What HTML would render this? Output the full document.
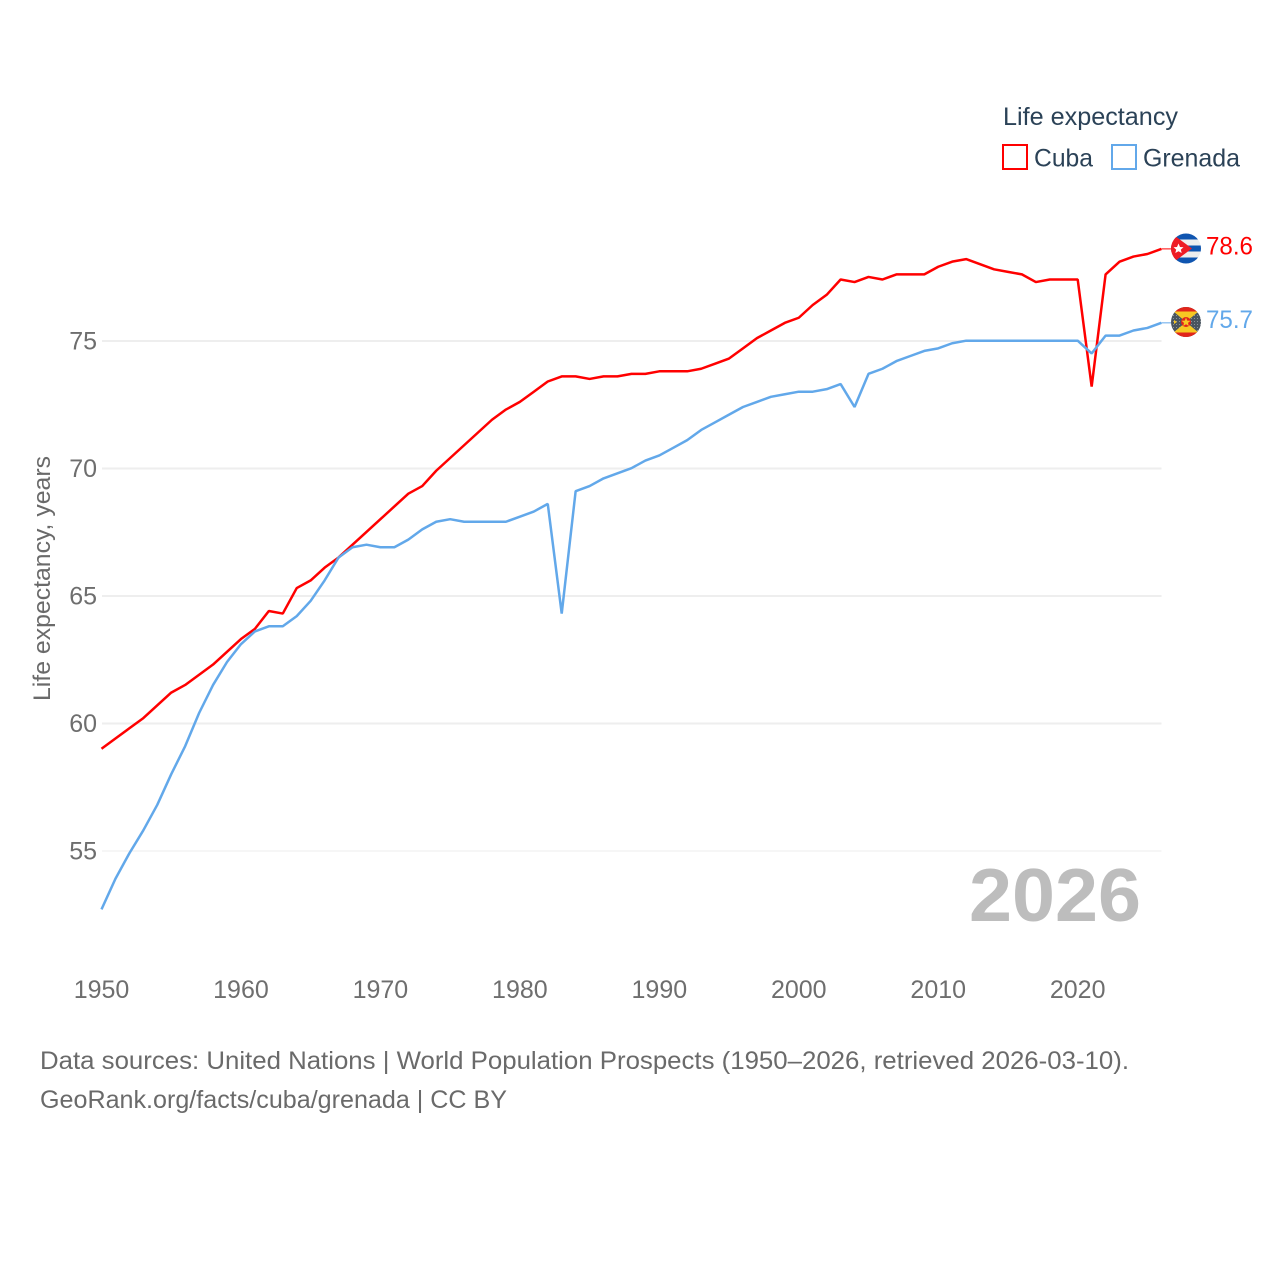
<!DOCTYPE html>
<html lang="en">
<head>
<meta charset="utf-8">
<title>Life expectancy: Cuba and Grenada</title>
<style>
html,body{margin:0;padding:0;background:#fff;width:1280px;height:1280px;overflow:hidden}
svg{display:block}
text{font-family:"Liberation Sans",sans-serif}
</style>
</head>
<body>
<svg id="chart" xmlns="http://www.w3.org/2000/svg" width="1280" height="1280" viewBox="0 0 1280 1280">
  <rect x="0" y="0" width="1280" height="1280" fill="#ffffff"/>
  <g id="grid"></g>
  <g id="yticks"></g>
  <g id="xticks"></g>
  <text transform="translate(50,578.5) rotate(-90)" text-anchor="middle" font-size="24" fill="#6a6a6a" textLength="245" lengthAdjust="spacingAndGlyphs">Life expectancy, years</text>
  <text x="969" y="921" font-size="75" font-weight="700" fill="#bdbdbd" textLength="172" lengthAdjust="spacingAndGlyphs">2026</text>
  <g id="series"></g>

  <g>
    <text x="1003" y="125" font-size="25" fill="#2b4257" textLength="175" lengthAdjust="spacingAndGlyphs">Life expectancy</text>
    <rect x="1003" y="145" width="24" height="24" fill="none" stroke="#ff0000" stroke-width="2"/>
    <text x="1034" y="166.5" font-size="25" fill="#2b4257" textLength="59" lengthAdjust="spacingAndGlyphs">Cuba</text>
    <rect x="1112" y="145" width="24" height="24" fill="none" stroke="#62a8ea" stroke-width="2"/>
    <text x="1143" y="166.5" font-size="25" fill="#2b4257" textLength="97" lengthAdjust="spacingAndGlyphs">Grenada</text>
  </g>

  <defs>
    <clipPath id="clip-cuba"><circle cx="1186" cy="248.5" r="15"/></clipPath>
    <clipPath id="clip-grenada"><circle cx="1186" cy="322" r="15"/></clipPath>
    <pattern id="grenada-mesh" width="3" height="3" patternUnits="userSpaceOnUse">
      <rect width="3" height="3" fill="#4a5560"/>
      <rect width="1" height="1" fill="#8b939a"/>
    </pattern>
  </defs>

  <g clip-path="url(#clip-cuba)">
    <rect x="1171" y="233" width="30" height="31" fill="#eeeeee"/>
    <rect x="1171" y="233" width="30" height="6.5" fill="#0f55b0"/>
    <rect x="1171" y="245.5" width="30" height="6" fill="#0f55b0"/>
    <rect x="1171" y="257.5" width="30" height="7" fill="#0f55b0"/>
    <polygon points="1171,233 1192,248.5 1171,264" fill="#ee1c25"/>
    <polygon points="1178.5,243.5 1180,247 1183.5,247.3 1180.8,249.6 1181.7,253 1178.5,251.2 1175.3,253 1176.2,249.6 1173.5,247.3 1177,247" fill="#ffffff"/>
  </g>

  <g clip-path="url(#clip-grenada)">
    <rect x="1171" y="307" width="30" height="30" fill="url(#grenada-mesh)"/>
    <polygon points="1173,311 1199,311 1186,322" fill="#f7c823"/>
    <polygon points="1173,333 1199,333 1186,322" fill="#f7c823"/>
    <rect x="1171" y="307" width="30" height="4.5" fill="#e1251b"/>
    <rect x="1171" y="332.5" width="30" height="4.5" fill="#e1251b"/>
    <circle cx="1186" cy="322" r="5" fill="#e1251b"/>
    <polygon points="1186,317.5 1187.2,320.6 1190.5,320.8 1188,322.9 1188.8,326 1186,324.3 1183.2,326 1184,322.9 1181.5,320.8 1184.8,320.6" fill="#f7c823"/>
    <polygon points="1174,320 1177,322 1174,324" fill="#f7c823"/>
  </g>

  <text x="1206" y="254.5" font-size="25" fill="#ff0000" textLength="47" lengthAdjust="spacingAndGlyphs" id="label-cuba"></text>
  <text x="1206" y="328" font-size="25" fill="#62a8ea" textLength="47" lengthAdjust="spacingAndGlyphs" id="label-grenada"></text>

  <g>
    <text x="40" y="1069" font-size="25" fill="#6a6a6a" textLength="1089" lengthAdjust="spacingAndGlyphs">Data sources: United Nations | World Population Prospects (1950–2026, retrieved 2026-03-10).</text>
    <text x="40" y="1108" font-size="25" fill="#6a6a6a" textLength="467" lengthAdjust="spacingAndGlyphs">GeoRank.org/facts/cuba/grenada | CC BY</text>
  </g>
</svg>

<script>
var startYear = 1950;
var cubaValues = [59.0,59.4,59.8,60.2,60.7,61.2,61.5,61.9,62.3,62.8,63.3,63.7,64.4,64.3,65.3,65.6,66.1,66.5,67.0,67.5,68.0,68.5,69.0,69.3,69.9,70.4,70.9,71.4,71.9,72.3,72.6,73.0,73.4,73.6,73.6,73.5,73.6,73.6,73.7,73.7,73.8,73.8,73.8,73.9,74.1,74.3,74.7,75.1,75.4,75.7,75.9,76.4,76.8,77.4,77.3,77.5,77.4,77.6,77.6,77.6,77.9,78.1,78.2,78.0,77.8,77.7,77.6,77.3,77.4,77.4,77.4,73.2,77.6,78.1,78.3,78.4,78.6];
var grenadaValues = [52.7,53.9,54.9,55.8,56.8,58.0,59.1,60.4,61.5,62.4,63.1,63.6,63.8,63.8,64.2,64.8,65.6,66.5,66.9,67.0,66.9,66.9,67.2,67.6,67.9,68.0,67.9,67.9,67.9,67.9,68.1,68.3,68.6,64.3,69.1,69.3,69.6,69.8,70.0,70.3,70.5,70.8,71.1,71.5,71.8,72.1,72.4,72.6,72.8,72.9,73.0,73.0,73.1,73.3,72.4,73.7,73.9,74.2,74.4,74.6,74.7,74.9,75.0,75.0,75.0,75.0,75.0,75.0,75.0,75.0,75.0,74.5,75.2,75.2,75.4,75.5,75.7];
var yTickValues = [55,60,65,70,75];
var xTickValues = [1950,1960,1970,1980,1990,2000,2010,2020];

var NS = 'http://www.w3.org/2000/svg';
function xScale(year) { return 101.5 + (year - 1950) * (1077.7 - 101.5) / 70; }
function yScale(value) { return 850.7 - (value - 55) * (850.7 - 340.7) / 20; }
function make(tag, attrs, parent) {
  var el = document.createElementNS(NS, tag);
  for (var k in attrs) { el.setAttribute(k, attrs[k]); }
  parent.appendChild(el);
  return el;
}

var grid = document.getElementById('grid');
var yticks = document.getElementById('yticks');
yTickValues.forEach(function (v) {
  var line = make('line', {x1: 102, x2: 1161.5, y1: yScale(v) + 0.3, y2: yScale(v) + 0.3, stroke: '#eeeeee', 'stroke-width': v === 55 ? 1 : 2}, grid);
  
  
  var t = make('text', {x: 97, y: yScale(v) + 8.8, 'text-anchor': 'end', 'font-size': 25, fill: '#6e6e6e'}, yticks);
  
  
  t.textContent = v;
});

var xticks = document.getElementById('xticks');
xTickValues.forEach(function (y) {
  var t = make('text', {x: xScale(y), y: 998, 'text-anchor': 'middle', 'font-size': 25, fill: '#6e6e6e'}, xticks);
  
  
  t.textContent = y;
});

function linePoints(values) {
  return values.map(function (v, i) {
    return xScale(startYear + i).toFixed(2) + ',' + yScale(v).toFixed(2);
  }).join(' ');
}

var series = document.getElementById('series');

var cubaConnector = make('line', {x1: xScale(startYear + cubaValues.length - 1), x2: 1172, y1: yScale(cubaValues[cubaValues.length - 1]), y2: yScale(cubaValues[cubaValues.length - 1]), stroke: '#ff0000', 'stroke-width': 1}, series);



var grenadaConnector = make('line', {x1: xScale(startYear + grenadaValues.length - 1), x2: 1172, y1: yScale(grenadaValues[grenadaValues.length - 1]), y2: yScale(grenadaValues[grenadaValues.length - 1]), stroke: '#62a8ea', 'stroke-width': 1}, series);



var cubaLine = make('polyline', {points: linePoints(cubaValues), fill: 'none', stroke: '#ff0000', 'stroke-width': 2.5, 'stroke-linejoin': 'bevel'}, series);



var grenadaLine = make('polyline', {points: linePoints(grenadaValues), fill: 'none', stroke: '#62a8ea', 'stroke-width': 2.5, 'stroke-linejoin': 'bevel'}, series);



document.getElementById('label-cuba').textContent = cubaValues[cubaValues.length - 1].toFixed(1);
document.getElementById('label-grenada').textContent = grenadaValues[grenadaValues.length - 1].toFixed(1);
</script>
</body>
</html>
